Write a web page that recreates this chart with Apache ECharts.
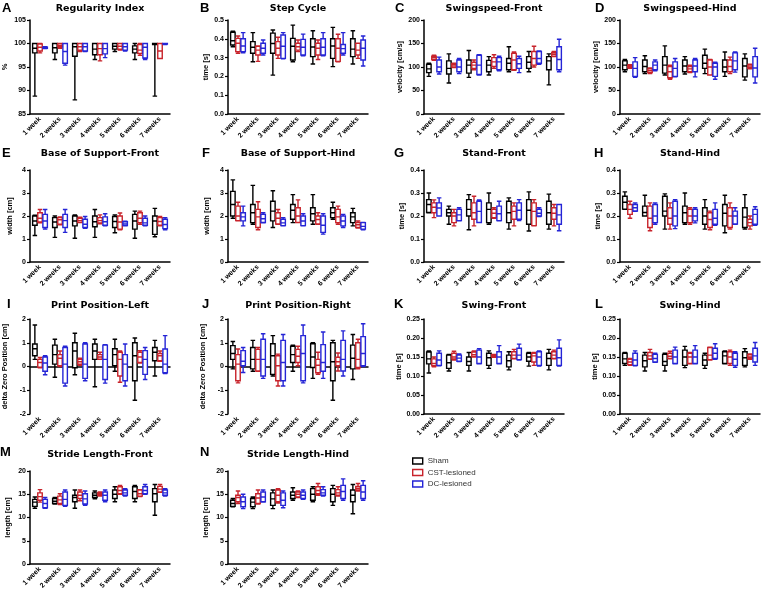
<!DOCTYPE html>
<html><head><meta charset="utf-8">
<script src="https://cdn.jsdelivr.net/npm/echarts@6/dist/echarts.min.js"></script>
<style>html,body{margin:0;padding:0;background:#fff}#c{width:764px;height:593px}</style>
</head><body><div id="c"></div>
<script>
const weeks = ['1 week','2 weeks','3 weeks','4 weeks','5 weeks','6 weeks','7 weeks'];
const groups = ['Sham','CST-lesioned','DC-lesioned'];

// A Regularity Index
const regSham = [[88.8,98,99,100,100],[96.6,98,99.1,100,100],[88,97.3,99.3,100,100],[96.6,97.6,98.8,100,100],[98.3,98.8,99.4,100,100],[96.6,98,98.8,99.5,100],[88.8,99.8,100,100,100]];
const regCST = [[98,98.4,99.2,99.9,100],[99,99.3,99.6,100,100],[98.3,98.6,99.3,100,100],[96.3,97.6,98.9,100,100],[98.6,98.8,99.4,100,100],[97.5,97.9,98.6,99.8,100],[96.8,96.8,98.4,100,100]];
const regDC = [[98.9,99,99.1,99.2,99.3],[95.4,95.8,98.3,100,100],[98.3,98.4,99.3,100,100],[97,97.8,98.9,100,100],[98.4,98.6,99.3,100,100],[96.6,96.9,99.2,100,100],[99.8,99.9,100,100,100]];
// B Step Cycle
const stepSham = [[0.358,0.367,0.39,0.435,0.441],[0.278,0.323,0.355,0.385,0.433],[0.207,0.323,0.375,0.43,0.447],[0.278,0.287,0.36,0.402,0.473],[0.266,0.305,0.356,0.4,0.443],[0.252,0.296,0.362,0.4,0.461],[0.266,0.305,0.345,0.4,0.443]];
const stepCST = [[0.323,0.332,0.376,0.402,0.415],[0.28,0.314,0.34,0.36,0.362],[0.296,0.314,0.35,0.385,0.408],[0.332,0.34,0.358,0.376,0.394],[0.29,0.314,0.35,0.376,0.394],[0.278,0.28,0.35,0.4,0.424],[0.296,0.314,0.34,0.376,0.376]];
const stepDC = [[0.326,0.332,0.362,0.4,0.433],[0.314,0.323,0.35,0.376,0.394],[0.293,0.296,0.36,0.42,0.433],[0.31,0.314,0.355,0.397,0.425],[0.31,0.314,0.355,0.4,0.433],[0.314,0.323,0.348,0.37,0.433],[0.255,0.287,0.35,0.394,0.415]];
// C Swingspeed-Front
const sfSham = [[80,88,96,106,108],[66,85,97,113,128],[78,87,104,115,135],[83,90,104,114,122],[90,94,108,118,143],[90,97,110,122,133],[62,94,113,122,128]];
const sfCST = [[114,116,120,123,125],[99,100,104,107,108],[94,97,104,110,115],[97,101,111,120,126],[93,94,115,129,132],[100,104,118,133,144],[122,123,127,131,133]];
const sfDC = [[85,90,100,115,121],[86,90,100,115,118],[83,84,104,125,126],[92,94,111,120,123],[88,97,107,118,123],[106,108,118,133,134],[90,94,116,143,159]];
// D Swingspeed-Hind
const shSham = [[90,94,104,113,116],[86,90,101,115,124],[83,87,104,122,145],[85,90,102,115,122],[86,97,108,125,138],[80,90,100,115,132],[72,79,102,118,128]];
const shCST = [[97,99,102,104,105],[86,88,92,96,98],[74,77,90,101,104],[88,90,96,101,104],[83,83,100,115,116],[86,90,101,115,121],[96,97,100,104,106]];
const shDC = [[78,80,97,111,120],[92,94,104,111,115],[79,80,97,111,118],[79,90,102,115,118],[74,80,100,108,110],[89,94,113,130,132],[66,79,98,122,140]];
// E Base of Support-Front
const bsfSham = [[1.15,1.6,1.78,2.0,2.04],[1.07,1.5,1.74,1.93,2.0],[1.03,1.57,1.78,2.0,2.05],[1.07,1.53,1.75,2.0,2.28],[1.27,1.5,1.76,1.98,2.05],[1.03,1.43,1.78,2.07,2.21],[1.1,1.2,1.78,2.0,2.33]];
const bsfCST = [[1.7,1.74,1.9,2.14,2.28],[1.62,1.64,1.84,1.93,1.96],[1.72,1.72,1.8,1.9,1.95],[1.66,1.7,1.8,1.93,2.05],[1.4,1.43,1.74,2.0,2.13],[1.64,1.71,1.9,2.14,2.21],[1.57,1.6,1.76,1.93,1.98]];
const bsfDC = [[1.43,1.5,1.78,2.07,2.28],[1.29,1.5,1.8,2.07,2.28],[1.47,1.5,1.64,1.86,1.98],[1.57,1.6,1.75,1.96,2.1],[1.57,1.58,1.65,1.75,1.77],[1.57,1.6,1.7,1.9,2.0],[1.4,1.45,1.63,1.86,1.93]];
// F Base of Support-Hind
const bshSham = [[1.9,2.0,2.5,3.07,3.57],[1.64,1.71,2.14,2.5,3.33],[1.5,1.79,2.21,2.64,3.1],[1.71,1.86,2.25,2.5,2.93],[1.64,1.79,2.1,2.36,2.93],[1.86,1.93,2.14,2.36,2.6],[1.57,1.71,1.96,2.14,2.33]];
const bshCST = [[1.79,1.8,2.0,2.43,2.6],[1.4,1.5,1.96,2.29,2.62],[1.64,1.65,1.9,2.14,2.28],[1.71,1.72,2.0,2.36,2.7],[1.64,1.65,1.85,2.0,2.14],[1.64,1.71,1.96,2.29,2.43],[1.48,1.5,1.62,1.72,1.79]];
const bshDC = [[1.57,1.79,1.96,2.14,2.43],[1.7,1.72,1.88,2.07,2.14],[1.57,1.58,1.7,1.86,1.93],[1.57,1.58,1.78,2.0,2.1],[1.21,1.29,1.6,2.0,2.1],[1.5,1.57,1.78,2.0,2.07],[1.4,1.43,1.55,1.71,1.72]];
// G Stand-Front
const stfSham = [[0.214,0.215,0.25,0.271,0.3],[0.164,0.2,0.214,0.229,0.243],[0.14,0.2,0.229,0.271,0.293],[0.164,0.171,0.229,0.257,0.3],[0.143,0.171,0.214,0.264,0.279],[0.135,0.164,0.225,0.271,0.305],[0.143,0.164,0.214,0.264,0.295]];
const stfCST = [[0.193,0.214,0.238,0.257,0.27],[0.157,0.171,0.2,0.214,0.229],[0.157,0.186,0.214,0.257,0.286],[0.19,0.193,0.212,0.229,0.236],[0.157,0.186,0.22,0.243,0.257],[0.157,0.158,0.22,0.257,0.271],[0.157,0.186,0.212,0.236,0.25]];
const stfDC = [[0.2,0.2,0.235,0.257,0.279],[0.179,0.18,0.205,0.229,0.236],[0.171,0.172,0.22,0.264,0.27],[0.179,0.18,0.21,0.243,0.264],[0.18,0.186,0.225,0.257,0.271],[0.198,0.2,0.212,0.229,0.236],[0.136,0.164,0.205,0.25,0.25]];
// H Stand-Hind
const sthSham = [[0.229,0.23,0.26,0.286,0.305],[0.2,0.2,0.215,0.243,0.29],[0.143,0.2,0.221,0.286,0.296],[0.164,0.171,0.214,0.243,0.3],[0.143,0.164,0.2,0.236,0.271],[0.127,0.157,0.212,0.25,0.29],[0.143,0.15,0.195,0.236,0.293]];
const sthCST = [[0.19,0.207,0.229,0.25,0.264],[0.136,0.15,0.19,0.243,0.257],[0.143,0.164,0.19,0.236,0.257],[0.164,0.171,0.2,0.229,0.236],[0.14,0.15,0.185,0.214,0.221],[0.143,0.15,0.2,0.236,0.257],[0.143,0.157,0.171,0.186,0.2]];
const sthDC = [[0.22,0.222,0.236,0.25,0.257],[0.164,0.171,0.2,0.25,0.257],[0.145,0.157,0.2,0.264,0.271],[0.17,0.179,0.2,0.229,0.236],[0.16,0.164,0.19,0.229,0.257],[0.164,0.165,0.2,0.221,0.236],[0.16,0.164,0.207,0.229,0.24]];
// I Print Position-Left
const pplSham = [[0.3,0.45,0.75,0.95,1.75],[-0.45,0.1,0.5,0.9,1.15],[-0.35,-0.05,0.65,1.0,1.4],[-0.85,0.3,0.65,0.95,1.15],[-0.2,0.03,0.5,0.75,1.15],[-1.42,-0.6,0.45,1.0,1.2],[-0.4,0.24,0.6,0.8,1.1]];
const pplCST = [[-0.05,-0.03,0.17,0.3,0.38],[0.0,0.03,0.35,0.5,0.65],[0.05,0.1,0.2,0.3,0.35],[0.3,0.31,0.4,0.5,0.6],[-0.66,-0.4,0.3,0.6,0.65],[0.15,0.17,0.4,0.6,0.67],[0.22,0.24,0.45,0.55,0.65]];
const pplDC = [[-0.35,-0.2,0.15,0.4,0.45],[-0.82,-0.7,0.1,0.8,0.85],[-0.6,-0.5,0.1,0.95,1.0],[-0.7,-0.55,0.3,0.9,0.92],[-0.82,-0.6,0.1,0.5,0.95],[-0.55,-0.33,0.3,0.67,0.8],[-0.3,-0.26,0.1,0.74,1.3]];
// J Print Position-Right
const pprSham = [[-0.1,0.3,0.55,0.88,1.05],[-0.2,-0.1,0.3,0.8,1.1],[-0.4,-0.33,0.45,0.96,1.3],[-0.2,0.17,0.5,0.85,0.9],[-0.5,-0.04,0.4,0.96,1.0],[-1.42,-0.6,0.2,1.0,1.1],[-0.55,-0.1,0.35,0.9,1.35]];
const pprCST = [[-0.69,-0.6,0.1,0.5,0.74],[-0.2,-0.19,0.3,0.72,0.8],[-0.82,-0.6,0.03,0.45,0.52],[0.03,0.17,0.43,0.72,0.85],[-0.33,-0.26,0.05,0.3,0.6],[-0.19,0.03,0.2,0.39,0.57],[-0.1,-0.04,0.3,1.0,1.15]];
const pprDC = [[-0.25,0.03,0.22,0.67,0.8],[-0.5,-0.4,0.3,1.15,1.38],[-0.82,-0.6,0.17,1.1,1.35],[-0.69,-0.6,0.55,1.3,1.75],[-0.5,-0.2,0.17,0.92,1.45],[-0.4,-0.19,0.3,1.1,1.5],[0.0,0.03,0.55,1.26,1.8]];
// K Swing-Front
const swfSham = [[0.108,0.132,0.145,0.163,0.166],[0.113,0.12,0.135,0.155,0.157],[0.113,0.128,0.138,0.15,0.162],[0.12,0.128,0.148,0.16,0.166],[0.116,0.124,0.14,0.155,0.164],[0.126,0.139,0.15,0.16,0.162],[0.116,0.128,0.146,0.16,0.17]];
const swfCST = [[0.124,0.127,0.133,0.145,0.15],[0.142,0.145,0.15,0.16,0.165],[0.15,0.151,0.156,0.163,0.166],[0.149,0.15,0.152,0.156,0.157],[0.145,0.146,0.155,0.164,0.17],[0.128,0.137,0.153,0.16,0.162],[0.145,0.146,0.155,0.164,0.168]];
const swfDC = [[0.127,0.128,0.142,0.16,0.166],[0.138,0.139,0.147,0.155,0.158],[0.132,0.133,0.15,0.168,0.172],[0.132,0.133,0.15,0.164,0.18],[0.142,0.143,0.155,0.173,0.184],[0.126,0.128,0.15,0.164,0.166],[0.126,0.128,0.148,0.173,0.195]];
// L Swing-Hind
const swhSham = [[0.128,0.133,0.145,0.16,0.162],[0.113,0.124,0.14,0.155,0.162],[0.113,0.128,0.138,0.157,0.16],[0.122,0.128,0.15,0.168,0.178],[0.12,0.128,0.142,0.155,0.16],[0.132,0.133,0.153,0.164,0.166],[0.124,0.128,0.148,0.164,0.172]];
const swhCST = [[0.128,0.13,0.137,0.144,0.146],[0.144,0.145,0.153,0.162,0.17],[0.145,0.146,0.152,0.16,0.165],[0.132,0.133,0.15,0.16,0.162],[0.142,0.143,0.155,0.175,0.176],[0.128,0.133,0.15,0.164,0.168],[0.144,0.146,0.15,0.156,0.158]];
const swhDC = [[0.127,0.128,0.142,0.16,0.166],[0.136,0.137,0.146,0.157,0.16],[0.132,0.133,0.15,0.168,0.176],[0.132,0.133,0.15,0.168,0.18],[0.144,0.146,0.16,0.173,0.185],[0.123,0.128,0.144,0.16,0.164],[0.128,0.137,0.153,0.173,0.188]];
// M Stride Length-Front
const slfSham = [[12,12.4,13.3,13.9,14.4],[12.9,13,13.5,14.1,14.3],[12,13.4,14.3,14.8,15.9],[14,14.3,14.8,15.3,15.7],[13.4,14.1,15,15.9,16.6],[13.4,14.1,15.6,16.6,16.9],[10.5,13.4,15.1,16.2,17.1]];
const slfCST = [[13.3,13.7,14.5,15.3,16],[12.8,13,13.8,14.6,15.1],[13.6,14.1,14.8,15.5,15.9],[14.6,14.8,15,15.3,15.5],[15,15.1,15.8,16.6,16.9],[14.5,14.6,15.1,15.9,16],[15.4,15.5,16.1,16.7,17.1]];
const slfDC = [[12,12.1,13,13.9,14.3],[12.4,12.6,13.9,15.5,15.9],[12.6,12.9,14,15.1,15.7],[13.4,13.7,14.8,15.5,15.9],[14.6,14.8,15.3,15.9,16.2],[15,15.1,15.8,16.6,17.1],[14.6,14.8,15.3,15.9,16.2]];
// N Stride Length-Hind
const slhSham = [[12.3,12.4,13,13.7,14.1],[11.9,12.3,13.3,14.1,14.4],[11.9,12.6,14,15.3,15.9],[13.7,14.1,14.8,15.5,16.4],[13.4,13.7,15,16.2,16.6],[12.6,13.4,15,16.2,16.9],[10.8,13.4,14.8,15.9,17.1]];
const slhCST = [[13,13.4,14.3,14.8,15.7],[12.9,13,14.2,15.1,15.9],[13.1,13.4,14.8,15.9,16.2],[14.3,14.4,15,15.5,15.7],[14.8,15.1,15.8,16.6,17.3],[14.6,14.8,15.3,16,16.6],[15.7,15.9,16.3,16.7,17.3]];
const slhDC = [[11.9,12.3,13.4,14.4,15],[13.3,13.4,14.4,15.5,15.9],[12.1,12.6,13.7,15.3,15.7],[13.9,14.1,14.8,15.5,15.9],[14.6,14.8,15.3,16,16.6],[13.7,14.1,15.6,16.9,18.3],[13.7,14.1,15.5,16.9,17.9]];

// panel definitions (text, axis ranges, data references)
const panelLetters = ['A','B','C','D','E','F','G','H','I','J','K','L','M','N'];
const panelTitles = ['Regularity Index','Step Cycle','Swingspeed-Front','Swingspeed-Hind','Base of Support-Front','Base of Support-Hind','Stand-Front','Stand-Hind','Print Position-Left','Print Position-Right','Swing-Front','Swing-Hind','Stride Length-Front','Stride Length-Hind'];
const yNames = ['%','time [s]','velocity [cm/s]','velocity [cm/s]','width [cm]','width [cm]','time [s]','time [s]','delta Zero Position [cm]','delta Zero Position [cm]','time [s]','time [s]','length [cm]','length [cm]'];
const yMin = [85,0,0,0,0,0,0,0,-2,-2,0,0,0,0];
const yMax = [105,0.5,200,200,4,4,0.4,0.4,2,2,0.25,0.25,20,20];
const yStep = [5,0.1,50,50,1,1,0.1,0.1,1,1,0.05,0.05,5,5];
const yDecimals = [0,1,0,0,0,0,1,1,0,0,2,2,0,0];
const panelData = [
  [regSham,regCST,regDC],[stepSham,stepCST,stepDC],[sfSham,sfCST,sfDC],[shSham,shCST,shDC],
  [bsfSham,bsfCST,bsfDC],[bshSham,bshCST,bshDC],[stfSham,stfCST,stfDC],[sthSham,sthCST,sthDC],
  [pplSham,pplCST,pplDC],[pprSham,pprCST,pprDC],[swfSham,swfCST,swfDC],[swhSham,swhCST,swhDC],
  [slfSham,slfCST,slfDC],[slhSham,slhCST,slhDC]
];

// layout (pixels)
const colLeft = [30,228,424,620];
const plotW = 140;
const rowTop = [20,170,319,471];
const rowH = [94,92,95,93];
const titleTop = [4,149,301,450];
const letterTop = [1.5,146.5,297.5,445.5];
const letterLeft = [[2,200,395,595],[2,202,394,594],[7,202,394,595],[0,200]];
const nameGaps = [21,18,17,17,16,17,17,17,21,21,20,20,18,18];
const colors = ['#000000','#c8232b','#2525d6'];
const FONT = '"Liberation Sans", Arial, sans-serif';

const grids = [], xAxes = [], yAxes = [], series = [], titles = [];
panelData.forEach((pd, i) => {
  const r = Math.floor(i / 4), c = i % 4;
  grids.push({left: colLeft[c], top: rowTop[r], width: plotW, height: rowH[r], outerBoundsMode: 'none', containLabel: false});
  xAxes.push({
    type: 'category', gridIndex: i, data: weeks, boundaryGap: true,
    axisLine: {lineStyle: {color: '#000', width: 1.5}},
    axisTick: {alignWithLabel: true, length: 3, lineStyle: {color: '#000', width: 1.2}},
    axisLabel: {interval: 0, rotate: 45, fontSize: 7, fontWeight: 'bold', color: '#000', fontFamily: FONT, margin: 4},
    splitLine: {show: false}
  });
  const dec = yDecimals[i];
  yAxes.push({
    type: 'value', gridIndex: i, min: yMin[i], max: yMax[i], interval: yStep[i],
    name: yNames[i], nameLocation: 'middle', nameGap: nameGaps[i], nameRotate: 90,
    nameTextStyle: {fontSize: 7.5, fontWeight: 'bold', color: '#000', fontFamily: FONT},
    axisLine: {show: true, lineStyle: {color: '#000', width: 1.5}},
    axisTick: {show: true, length: 3, lineStyle: {color: '#000', width: 1.2}},
    axisLabel: {fontSize: 7, fontWeight: 'bold', color: '#000', fontFamily: FONT, margin: 4,
      formatter: v => Number(v).toFixed(dec)},
    splitLine: {show: false}
  });
  pd.forEach((d, g) => {
    series.push({
      type: 'boxplot', name: groups[g], xAxisIndex: i, yAxisIndex: i, data: d,
      boxWidth: [4.5, 4.5], silent: true,
      itemStyle: {color: '#fff', borderColor: colors[g], borderWidth: 1.4},
      emphasis: {disabled: true}
    });
  });
  titles.push({
    text: panelTitles[i], left: colLeft[c] + plotW / 2, top: titleTop[r], textAlign: 'center', padding: 0,
    textStyle: {fontSize: 9.5, fontWeight: 'bold', color: '#000', fontFamily: '"DejaVu Sans", sans-serif'}
  });
  titles.push({
    text: panelLetters[i], left: letterLeft[r][c], top: letterTop[r], textAlign: 'left', padding: 0,
    textStyle: {fontSize: 13, fontWeight: 'bold', color: '#000', fontFamily: FONT}
  });
});

const chart = echarts.init(document.getElementById('c'), null, {renderer: 'canvas'});
chart.setOption({
  backgroundColor: '#fff',
  animation: false,
  title: titles,
  grid: grids,
  xAxis: xAxes,
  yAxis: yAxes,
  legend: {
    orient: 'vertical', left: 412, top: 457, padding: 0, itemGap: 3.5,
    icon: 'rect', itemWidth: 10, itemHeight: 6,
    textStyle: {fontSize: 8, color: '#333', fontFamily: FONT, padding: [0, 0, 0, 0]},
    data: groups.map((g, k) => ({name: g, icon: 'rect', itemStyle: {color: '#fff', borderColor: colors[k], borderWidth: 1.4}}))
  },
  series: series
});
</script>
</body></html>
